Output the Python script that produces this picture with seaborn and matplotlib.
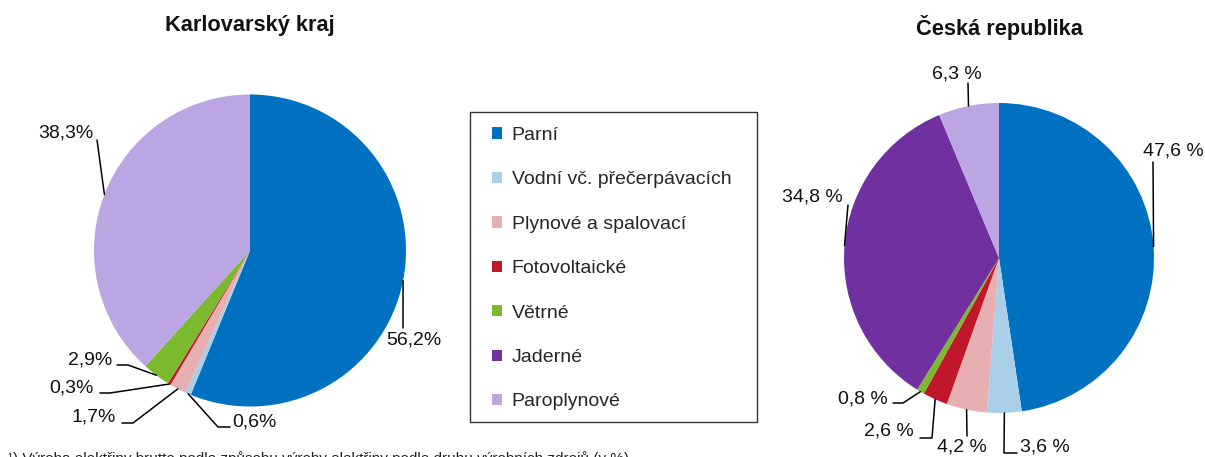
import matplotlib
matplotlib.use("Agg")
import matplotlib.pyplot as plt
import seaborn as sns
import numpy as np
from matplotlib.patches import Patch, Rectangle

# data
categories = ["Parní", "Vodní vč. přečerpávacích", "Plynové a spalovací",
              "Fotovoltaické", "Větrné", "Jaderné", "Paroplynové"]
karlovarsky = [56.2, 0.6, 1.7, 0.3, 2.9, 0.0, 38.3]
cesko = [47.6, 3.6, 4.2, 2.6, 0.8, 34.8, 6.3]
kv_labels = ["56,2%", "0,6%", "1,7%", "0,3%", "2,9%", None, "38,3%"]
cr_labels = ["47,6 %", "3,6 %", "4,2 %", "2,6 %", "0,8 %", "34,8 %", "6,3 %"]
titles = ["Karlovarský kraj", "Česká republika"]
footnote = "¹) Výroba elektřiny brutto podle způsobu výroby elektřiny podle druhu výrobních zdrojů (v %)"

colors = ["#0070C0", "#A9CFE9", "#E8AFB3", "#C0182A", "#7BB92F", "#7030A0", "#BBA6E3"]

sns.set_theme(style="white")
plt.rcParams["font.family"] = ["Liberation Sans", "DejaVu Sans"]

W, H = 1205, 457
fig = plt.figure(figsize=(W / 100, H / 100), dpi=100)

# label layout in image pixels: text x, text y, ha, bend points of leader line
kv_layout = {
    0: (414, 340, "center", [(403, 328)]),
    1: (232, 422, "left", [(218, 427), (230, 427)]),
    2: (116, 417, "right", [(133, 423), (122, 423)]),
    3: (94, 388, "right", [(110, 393), (100, 393)]),
    4: (112, 360, "right", [(128, 365), (117, 365)]),
    6: (66, 133, "center", [(97, 140)]),
}
cr_layout = {
    0: (1173, 151, "center", [(1153, 162)]),
    1: (1020, 447, "left", [(1004, 453), (1017, 453)]),
    2: (962, 447, "center", [(967, 436)]),
    3: (914, 431, "right", [(932, 438), (920, 438)]),
    4: (888, 399, "right", [(903, 403), (893, 403)]),
    5: (812, 197, "center", [(848, 205)]),
    6: (957, 74, "center", [(968, 83)]),
}


def draw_pie(values, labels, layout, cx, cy, r, title, title_y):
    half = 230
    ax = fig.add_axes([(cx - half) / W, (H - cy - half) / H, 2 * half / W, 2 * half / H])
    wedges, _ = ax.pie(values, colors=colors, startangle=90, counterclock=False,
                       radius=1, wedgeprops=dict(linewidth=0))
    ax.set_xlim(-half / r, half / r)
    ax.set_ylim(-half / r, half / r)
    ax.set_aspect("equal")
    ax.axis("off")

    def to_data(px, py):
        return (px - cx) / r, (cy - py) / r

    for i, (tx, ty, ha, bends) in layout.items():
        w = wedges[i]
        mid = np.deg2rad((w.theta1 + w.theta2) / 2)
        pts = [(np.cos(mid), np.sin(mid))] + [to_data(*b) for b in bends]
        xs, ys = zip(*pts)
        ax.plot(xs, ys, color="black", lw=1.1, clip_on=False)
        x, y = to_data(tx, ty)
        ax.text(x, y, labels[i], ha=ha, va="center", fontsize=14, color="#111111")

    fig.text(cx / W, (H - title_y) / H, title, ha="center", va="center",
             fontsize=15.7, fontweight="bold", color="#111111")


draw_pie(karlovarsky, kv_labels, kv_layout, 250, 250.5, 156, titles[0], 25)
draw_pie(cesko, cr_labels, cr_layout, 999, 258, 155, titles[1], 27)

# legend box drawn separately, entries placed inside it
fig.patches.append(Rectangle((470 / W, (H - 422) / H), 287 / W, 310 / H,
                             transform=fig.transFigure, facecolor="white",
                             edgecolor="#333333", linewidth=1.0, zorder=1))
handles = [Patch(facecolor=c, edgecolor="none") for c in colors]
leg = fig.legend(handles, categories, loc="upper left",
                 bbox_to_anchor=(492 / W, (H - 127) / H), borderaxespad=0,
                 fontsize=14, frameon=False, handlelength=0.52, handleheight=0.52,
                 handletextpad=0.5, labelspacing=1.41, borderpad=0)
leg.set_zorder(2)

fig.text(8 / W, (H - 451) / H, footnote, ha="left", va="top", fontsize=11,
         color="#222222")

fig.savefig("out.png", dpi=100)
